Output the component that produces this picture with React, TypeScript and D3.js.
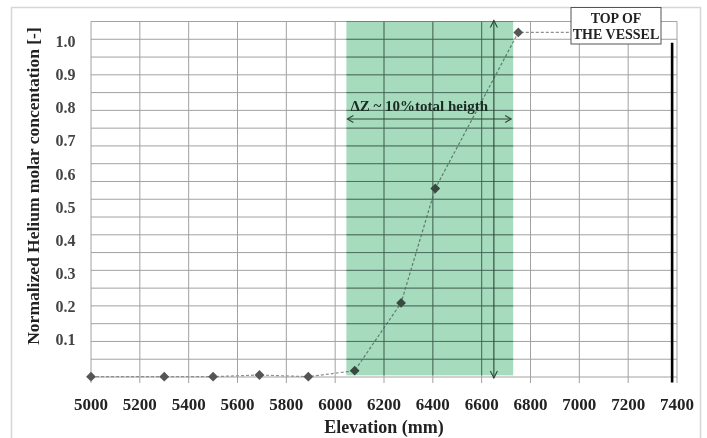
import React from "react";
import * as d3 from "d3";

// Elevation (mm) of each sampling point and its normalized helium concentration
const elevations = [5000, 5300, 5500, 5690, 5890, 6080, 6270, 6410, 6750, 7200];
const concentrations = [-0.012, -0.012, -0.012, -0.007, -0.012, 0.006, 0.211, 0.557, 1.029, 1.029];

const xTicks = [5000, 5200, 5400, 5600, 5800, 6000, 6200, 6400, 6600, 6800, 7000, 7200, 7400];
const yTicks = [0.1, 0.2, 0.3, 0.4, 0.5, 0.6, 0.7, 0.8, 0.9, 1.0];

// Stratified layer band and its annotations
const bandRange = [6046, 6729];
const bandLow = -0.008;
const deltaArrowX = 6650;
const spanArrowY = 0.767;
const vesselTopX = 7380;
const vesselLineRange = [-0.03, 0.998];

const W = 707;
const H = 438;
const left = 91;
const right = 677;
const top = 21.5;
const bottom = 377;
const plotBottom = 383;

const serif = "'Liberation Serif', 'Times New Roman', serif";

export default function App() {
  const x = d3.scaleLinear().domain([5000, 7400]).range([left, right]);
  const y = d3.scaleLinear().domain([-0.013, 1.062]).range([bottom, top]);
  const [yMin, yMax] = y.domain();
  const gridRows = d3.range(21).map((i) => yMin + (i * (yMax - yMin)) / 20);

  const points = elevations.map((e, i) => [e, concentrations[i]] as [number, number]);
  const line = d3
    .line<[number, number]>()
    .x((d) => x(d[0]))
    .y((d) => y(d[1]));
  const diamond = d3.symbol(d3.symbolSquare, 48)();

  const bx0 = x(bandRange[0]);
  const bx1 = x(bandRange[1]);
  const by1 = y(bandLow);
  const ax = x(deltaArrowX);
  const ay = y(spanArrowY);
  const ink = "#2a4537";

  const grid = (stroke: string, opacity: number) => (
    <g stroke={stroke} strokeWidth={1} strokeOpacity={opacity}>
      {xTicks.map((t) => (
        <line key={"v" + t} x1={x(t)} x2={x(t)} y1={top} y2={plotBottom} />
      ))}
      {gridRows.map((v, i) => (
        <line key={"h" + i} x1={left} x2={right} y1={y(v)} y2={y(v)} />
      ))}
    </g>
  );

  return (
    <svg
      width={W}
      height={H}
      style={{ position: "absolute", left: 0, top: 0, background: "#fff" }}
      fontFamily={serif}
    >
      <defs>
        <clipPath id="band-clip">
          <rect x={bx0} y={top} width={bx1 - bx0} height={by1 - top} />
        </clipPath>
      </defs>
      <rect x={11.5} y={7.5} width={689} height={440} fill="#fff" stroke="#d6d6d6" strokeWidth={1.5} />

      {/* grid */}
      {grid("#a2a2a2", 1)}

      {/* series */}
      <path d={line(points) || ""} fill="none" stroke="#8f8f8f" strokeWidth={1.2} strokeDasharray="3,2" />
      {points.slice(0, points.length - 1).map((p, i) => (
        <path
          key={"p" + i}
          d={diamond || ""}
          transform={`translate(${x(p[0])},${y(p[1])}) rotate(45)`}
          fill="#555"
        />
      ))}

      {/* band of the stratified layer */}
      <rect
        x={bx0}
        y={top}
        width={bx1 - bx0}
        height={by1 - top}
        fill="#a6dcbd"
        style={{ mixBlendMode: "multiply" }}
      />
      <g clipPath="url(#band-clip)">{grid("#35584a", 0.55)}</g>

      {/* vertical double arrow */}
      <g stroke={ink} strokeWidth={1.1} fill="none">
        <line x1={ax} x2={ax} y1={top - 1} y2={bottom + 1} />
        <polyline points={`${ax - 3.5},${top + 6} ${ax},${top - 1} ${ax + 3.5},${top + 6}`} />
        <polyline points={`${ax - 3.5},${bottom - 6} ${ax},${bottom + 1} ${ax + 3.5},${bottom - 6}`} />
      </g>

      {/* horizontal double arrow */}
      <g stroke={ink} strokeWidth={1.1} fill="none">
        <line x1={bx0 + 1} x2={bx1 - 2} y1={ay} y2={ay} />
        <polyline points={`${bx0 + 7},${ay - 3.5} ${bx0 + 1},${ay} ${bx0 + 7},${ay + 3.5}`} />
        <polyline points={`${bx1 - 8},${ay - 3.5} ${bx1 - 2},${ay} ${bx1 - 8},${ay + 3.5}`} />
      </g>
      <text x={bx0 + 4} y={ay - 8.5} fontSize={15} fontWeight="bold" fill="#1a2b22">
        ΔZ ~ 10%total heigth
      </text>

      {/* vessel top marker */}
      <line
        x1={x(vesselTopX)}
        x2={x(vesselTopX)}
        y1={y(vesselLineRange[1])}
        y2={y(vesselLineRange[0])}
        stroke="#000"
        strokeWidth={2.6}
      />
      <rect x={571} y={7.5} width={90} height={36.5} fill="#fff" stroke="#555" strokeWidth={1} />
      <text x={616} y={23.3} fontSize={14} fontWeight="bold" textAnchor="middle" fill="#222">
        TOP OF
      </text>
      <text x={616} y={39.3} fontSize={14} fontWeight="bold" textAnchor="middle" fill="#222">
        THE VESSEL
      </text>

      {/* axes labels */}
      <g fontSize={17} fontWeight="bold" fill="#222" textAnchor="middle">
        {xTicks.map((t) => (
          <text key={"xt" + t} x={x(t)} y={409.5}>
            {t}
          </text>
        ))}
      </g>
      <g fontSize={16} fontWeight="bold" fill="#444" textAnchor="end">
        {yTicks.map((t) => (
          <text key={"yt" + t} x={75.5} y={y(t)} dy="0.33em">
            {t.toFixed(1)}
          </text>
        ))}
      </g>
      <text x={384} y={433} fontSize={18} fontWeight="bold" textAnchor="middle" fill="#222">
        Elevation (mm)
      </text>
      <text
        transform={`translate(39,186) rotate(-90)`}
        fontSize={17.5}
        fontWeight="bold"
        textAnchor="middle"
        fill="#222"
      >
        Normalized Helium molar concentation [-]
      </text>
    </svg>
  );
}
